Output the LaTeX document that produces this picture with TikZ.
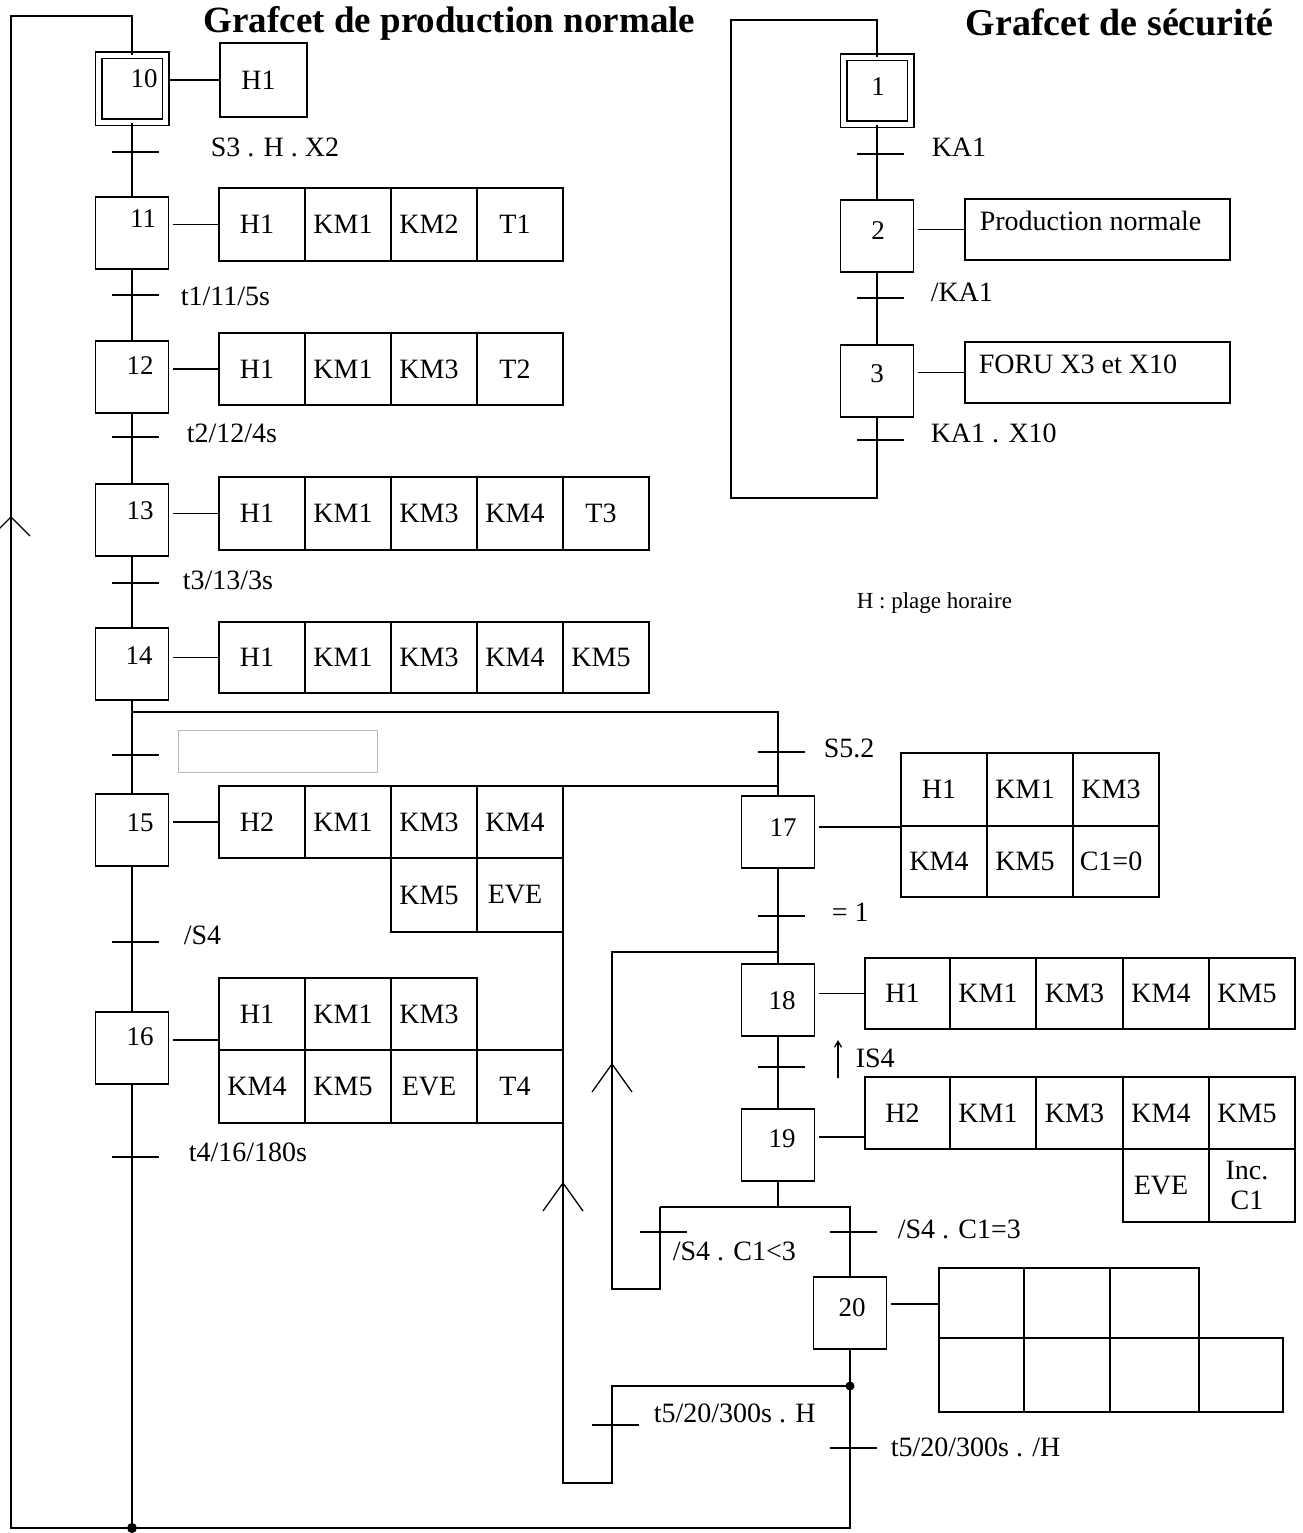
\documentclass[tikz,border=0pt]{standalone}
\usepackage{fontspec}
\setmainfont{Liberation Serif}
\usetikzlibrary{arrows.meta}
\newcommand\lblfont{\fontsize{28}{31}\selectfont}
\newcommand\numfont{\fontsize{27}{29}\selectfont}
\newcommand\ttlfont{\fontsize{37}{40}\selectfont\bfseries}
\newcommand\ttlbfont{\fontsize{38}{40}\selectfont\bfseries}
\newcommand\notefont{\fontsize{23}{25}\selectfont}
\newcommand\mycell[6]{\node[cellbox, minimum width={(#4)-(#2)}, minimum height={(#5)-(#3)}] (#1) at ({((#2)+(#4))/2},{((#3)+(#5))/2}) {};
  \node[celltext] (#1t) at ([xshift=-5pt]#1.center) {#6};}
\newcommand\mytick[2]{\draw[tickline] ({(#1)-20},#2) -- ({(#1)+27},#2);}
\begin{document}
\begin{tikzpicture}[x=1pt,y=-1pt,line width=1.5pt,
  stepbox/.style={draw, minimum width=73pt, minimum height=72pt, inner sep=0pt},
  initbox/.style={draw, double, double distance=5pt, minimum width=67pt, minimum height=67pt, inner sep=0pt},
  cellbox/.style={draw, inner sep=0pt},
  celltext/.style={inner sep=0pt, font=\lblfont, align=center},
  numf/.style={font=\numfont, inner sep=0pt, anchor=base},
  lbl/.style={font=\lblfont, inner sep=0pt, anchor=base west},
  tickline/.style={line width=1.5pt},
  chev/.style={line width=1.3pt},
  link/.style={shorten <=4pt}]
\useasboundingbox (0,0) rectangle (1302,1533);
\clip (0,0) rectangle (1302,1533);

% ---------- titles ----------
\node[font=\ttlfont, inner sep=0pt, anchor=base west] (title1) at (203,33) {Grafcet de production normale};
\node[font=\ttlbfont, inner sep=0pt, anchor=base west] (title2) at (965,36) {Grafcet de sécurité};
\node[font=\notefont, inner sep=0pt, anchor=base west] (note) at (856,608) {H : plage horaire};

% ---------- production steps ----------
\node[initbox] (s10) at (132,89) {};
\node[stepbox] (s11) at (132,233) {};
\node[stepbox] (s12) at (132,377) {};
\node[stepbox] (s13) at (132,520) {};
\node[stepbox] (s14) at (132,664) {};
\node[stepbox] (s15) at (132,830) {};
\node[stepbox] (s16) at (132,1048) {};
\node[stepbox] (s17) at (778,832) {};
\node[stepbox] (s18) at (778,1000) {};
\node[stepbox] (s19) at (778,1145) {};
\node[stepbox] (s20) at (850,1313) {};

\node[numf] (n10) at (144,88) {10};
\node[numf] (n11) at (143,227) {11};
\node[numf] (n12) at (140,374) {12};
\node[numf] (n13) at (140,519) {13};
\node[numf] (n14) at (139,664) {14};
\node[numf] (n15) at (140,831) {15};
\node[numf] (n16) at (140,1045) {16};
\node[numf] (n17) at (783,836) {17};
\node[numf] (n18) at (782,1009) {18};
\node[numf] (n19) at (782,1147) {19};
\node[numf] (n20) at (852,1316) {20};

% ---------- action tables ----------
\mycell{a10}{220}{43}{307}{117}{H1}

\mycell{a11a}{219}{188}{305}{261}{H1}
\mycell{a11b}{305}{188}{391}{261}{KM1}
\mycell{a11c}{391}{188}{477}{261}{KM2}
\mycell{a11d}{477}{188}{563}{261}{T1}

\mycell{a12a}{219}{333}{305}{405}{H1}
\mycell{a12b}{305}{333}{391}{405}{KM1}
\mycell{a12c}{391}{333}{477}{405}{KM3}
\mycell{a12d}{477}{333}{563}{405}{T2}

\mycell{a13a}{219}{477}{305}{550}{H1}
\mycell{a13b}{305}{477}{391}{550}{KM1}
\mycell{a13c}{391}{477}{477}{550}{KM3}
\mycell{a13d}{477}{477}{563}{550}{KM4}
\mycell{a13e}{563}{477}{649}{550}{T3}

\mycell{a14a}{219}{622}{305}{693}{H1}
\mycell{a14b}{305}{622}{391}{693}{KM1}
\mycell{a14c}{391}{622}{477}{693}{KM3}
\mycell{a14d}{477}{622}{563}{693}{KM4}
\mycell{a14e}{563}{622}{649}{693}{KM5}

\mycell{a15a}{219}{786}{305}{858}{H2}
\mycell{a15b}{305}{786}{391}{858}{KM1}
\mycell{a15c}{391}{786}{477}{858}{KM3}
\mycell{a15d}{477}{786}{563}{858}{KM4}
\mycell{a15e}{391}{858}{477}{932}{KM5}
\mycell{a15f}{477}{858}{563}{932}{EVE}

\mycell{a16a}{219}{978}{305}{1050}{H1}
\mycell{a16b}{305}{978}{391}{1050}{KM1}
\mycell{a16c}{391}{978}{477}{1050}{KM3}
\mycell{a16d}{219}{1050}{305}{1123}{KM4}
\mycell{a16e}{305}{1050}{391}{1123}{KM5}
\mycell{a16f}{391}{1050}{477}{1123}{EVE}
\mycell{a16g}{477}{1050}{563}{1123}{T4}

\mycell{a17a}{901}{753}{987}{826}{H1}
\mycell{a17b}{987}{753}{1073}{826}{KM1}
\mycell{a17c}{1073}{753}{1159}{826}{KM3}
\mycell{a17d}{901}{826}{987}{897}{KM4}
\mycell{a17e}{987}{826}{1073}{897}{KM5}
\mycell{a17f}{1073}{826}{1159}{897}{C1=0}

\mycell{a18a}{865}{958}{950}{1029}{H1}
\mycell{a18b}{950}{958}{1036}{1029}{KM1}
\mycell{a18c}{1036}{958}{1123}{1029}{KM3}
\mycell{a18d}{1123}{958}{1209}{1029}{KM4}
\mycell{a18e}{1209}{958}{1295}{1029}{KM5}

\mycell{a19a}{865}{1077}{950}{1149}{H2}
\mycell{a19b}{950}{1077}{1036}{1149}{KM1}
\mycell{a19c}{1036}{1077}{1123}{1149}{KM3}
\mycell{a19d}{1123}{1077}{1209}{1149}{KM4}
\mycell{a19e}{1209}{1077}{1295}{1149}{KM5}
\mycell{a19f}{1123}{1149}{1209}{1222}{EVE}
\mycell{a19g}{1209}{1149}{1295}{1222}{Inc.\\[-1pt]C1}

\mycell{a20a}{939}{1268}{1024}{1338}{}
\mycell{a20b}{1024}{1268}{1110}{1338}{}
\mycell{a20c}{1110}{1268}{1199}{1338}{}
\mycell{a20d}{939}{1338}{1024}{1412}{}
\mycell{a20e}{1024}{1338}{1110}{1412}{}
\mycell{a20f}{1110}{1338}{1199}{1412}{}
\mycell{a20g}{1199}{1338}{1283}{1412}{}

% ---------- links step -> actions ----------
\draw[link] (s10.east |- a10.west) -- (a10.west);
\draw[link] (s11.east |- a11a.west) -- (a11a.west);
\draw[link] (s12.east |- a12a.west) -- (a12a.west);
\draw[link] (s13.east |- a13a.west) -- (a13a.west);
\draw[link] (s14.east |- a14a.west) -- (a14a.west);
\draw[link] (s15.east |- a15a.west) -- (a15a.west);
\draw[link] ([yshift=8pt]s16.east) -- ([yshift=8pt]s16.east -| a16a.west);
\draw[link] (s17.east |- a17a.south west) -- (a17a.south west);
\draw[link] (s18.east |- a18a.west) -- (a18a.west);
\draw[link] ([yshift=8pt]s19.east) -- ([yshift=8pt]s19.east -| a19a.west);
\draw[link] ([yshift=9pt]s20.east) -- ([yshift=9pt]s20.east -| a20a.west);

% ---------- blank receptivity box ----------
\node[draw=gray!55, line width=1pt, minimum width=199pt, minimum height=42pt, inner sep=0pt] (blank) at (277.5,751) {};

% ---------- production chain ----------
\coordinate (top10) at (132,16);
\coordinate (tl) at (11,16);
\coordinate (bll) at (11,1528);
\coordinate (bl) at (132,1528);
\coordinate (br) at (850,1528);
\coordinate (d14) at (132,712);
\coordinate (d17) at (778,712);
\coordinate (c17) at (778,786);
\coordinate (l17a) at (563,786);
\coordinate (l17b) at (563,1483);
\coordinate (l20b) at (612,1483);
\coordinate (l20a) at (612,1386);
\coordinate (j20) at (850,1386);
\coordinate (c18) at (778,952);
\coordinate (l18a) at (612,952);
\coordinate (l18b) at (612,1289);
\coordinate (l18c) at (660,1289);
\coordinate (dvl) at (660,1207);
\coordinate (dvm) at (778,1207);
\coordinate (dvr) at (850,1207);

\draw (s10.north) -- (top10) -- (tl) -- (bll) -- (bl);
\draw (s10.south) -- (s11.north);
\draw (s11.south) -- (s12.north);
\draw (s12.south) -- (s13.north);
\draw (s13.south) -- (s14.north);
\draw (s14.south) -- (s15.north);
\draw (s15.south) -- (s16.north);
\draw (s16.south) -- (bl);
\draw (bl) -- (br) -- (s20.south);
\draw (d14) -- (d17) -- (s17.north);
\draw (c17) -- (l17a) -- (l17b) -- (l20b) -- (l20a) -- (j20);
\draw (s17.south) -- (s18.north);
\draw (c18) -- (l18a) -- (l18b) -- (l18c) -- (dvl);
\draw (s18.south) -- (s19.north);
\draw (s19.south) -- (dvm);
\draw (dvl) -- (dvr) -- (s20.north);
\fill (bl) circle (5pt);
\fill (j20) circle (4.5pt);

% transitions
\mytick{132}{152}
\mytick{132}{295}
\mytick{132}{437}
\mytick{132}{583}
\mytick{132}{755}
\mytick{132}{942}
\mytick{132}{1157}
\mytick{778}{752}
\mytick{778}{916}
\mytick{778}{1067}
\mytick{660}{1232}
\mytick{850}{1232}
\mytick{612}{1425}
\mytick{850}{1448}

% direction chevrons
\draw[chev] (-8,536) -- (11,517) -- (30,536);
\draw[chev] (543,1211) -- (563,1183) -- (583,1211);
\draw[chev] (592,1092) -- (612,1064) -- (632,1092);

% rising edge arrow
\coordinate (ar1) at (838,1078);
\coordinate (ar2) at (838,1040);
\draw[line width=1.3pt, -{Straight Barb[length=6pt,width=7pt]}] (ar1) -- (ar2);

% receptivity labels
\node[lbl] (r10) at (210,157) {S3 . H . X2};
\node[lbl] (r11) at (180,305) {t1/11/5s};
\node[lbl] (r12) at (186,442) {t2/12/4s};
\node[lbl] (r13) at (182,589) {t3/13/3s};
\node[lbl] (r15) at (183,944) {/S4};
\node[lbl] (r16) at (188,1161) {t4/16/180s};
\node[lbl] (r14b) at (823,757) {S5.2};
\node[lbl] (r17) at (831,921) {= 1};
\node[lbl] (r18) at (855,1067) {IS4};
\node[lbl] (r19a) at (672,1260) {/S4 . C1<3};
\node[lbl] (r19b) at (897,1238) {/S4 . C1=3};
\node[lbl] (r20a) at (653,1422) {t5/20/300s . H};
\node[lbl] (r20b) at (890,1456) {t5/20/300s . /H};

% ---------- safety grafcet ----------
\node[initbox] (s1) at (877,91) {};
\node[stepbox] (s2) at (877,236) {};
\node[stepbox] (s3) at (877,381) {};
\node[numf] (n1) at (878,96) {1};
\node[numf] (n2) at (878,239) {2};
\node[numf] (n3) at (877,382) {3};

\node[draw, minimum width=265pt, minimum height=61pt, inner sep=0pt] (a2) at (1097.5,229.5) {};
\node[draw, minimum width=265pt, minimum height=61pt, inner sep=0pt] (a3) at (1097.5,372.5) {};
\node[lbl] (a2t) at (979,230) {Production normale};
\node[lbl] (a3t) at (978,373) {FORU X3 et X10};
\draw[link] (s2.east |- a2.west) -- (a2.west);
\draw[link] (s3.east |- a3.west) -- (a3.west);

\coordinate (st) at (877,20);
\coordinate (stl) at (731,20);
\coordinate (sbl) at (731,498);
\coordinate (sb) at (877,498);
\draw (s1.south) -- (s2.north);
\draw (s2.south) -- (s3.north);
\draw (s3.south) -- (sb) -- (sbl) -- (stl) -- (st) -- (s1.north);
\mytick{877}{154}
\mytick{877}{298}
\mytick{877}{440}
\node[lbl] (k1) at (931,157) {KA1};
\node[lbl] (k2) at (930,301) {/KA1};
\node[lbl] (k3) at (930,442) {KA1 . X10};
\end{tikzpicture}
\end{document}
